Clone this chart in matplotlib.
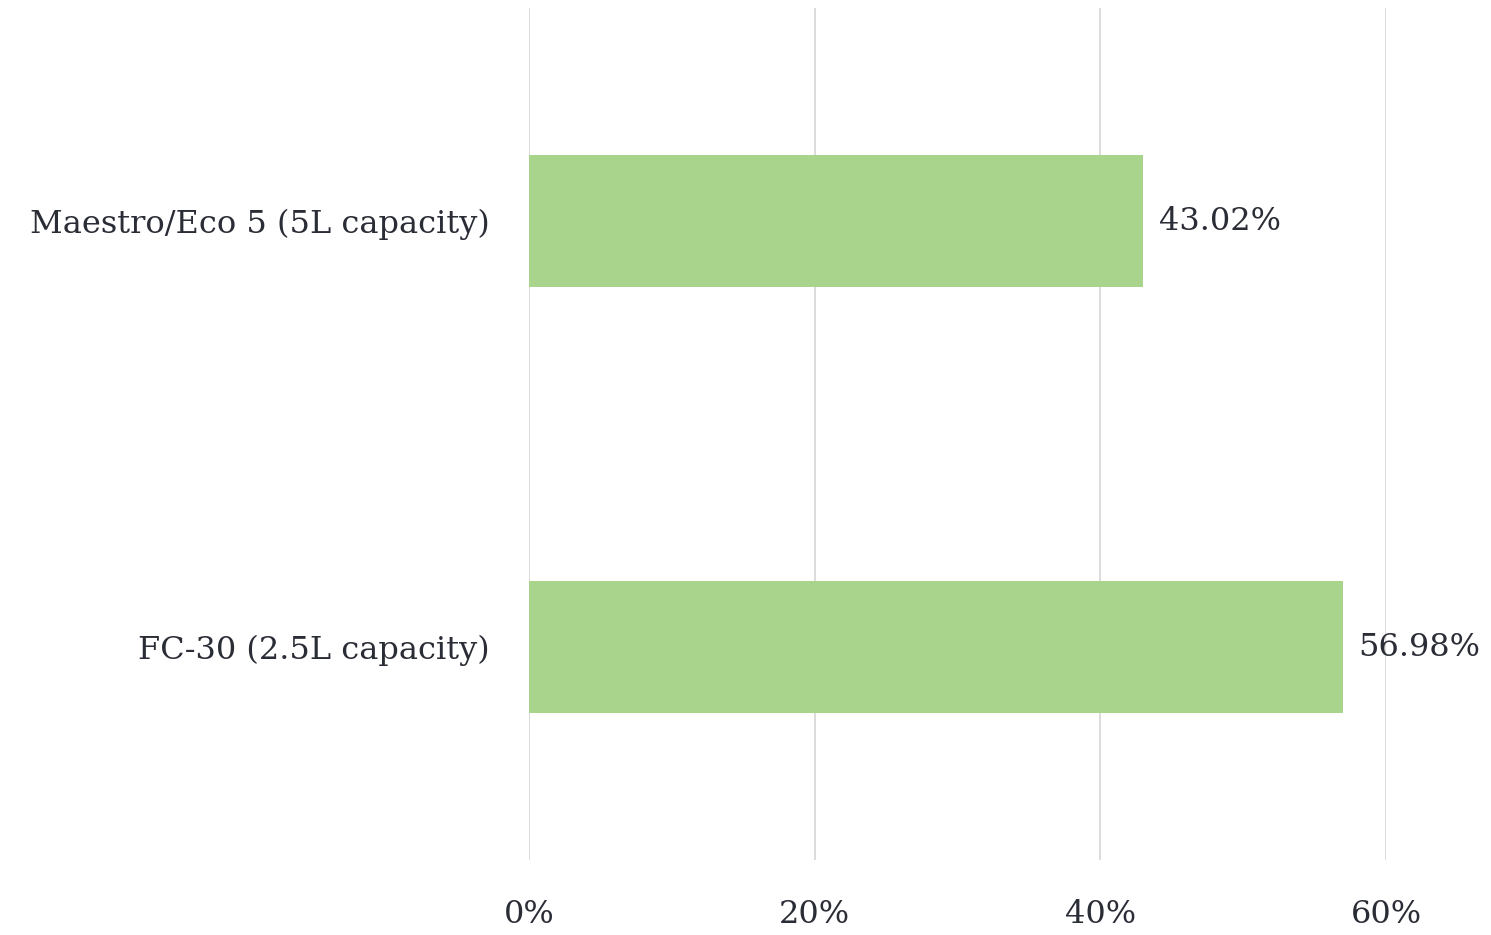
import matplotlib
matplotlib.use("Agg")
import matplotlib.pyplot as plt

categories = ["Maestro/Eco 5 (5L capacity)", "FC-30 (2.5L capacity)"]
shares = [43.02, 56.98]
ticks = [0, 20, 40, 60]
tick_labels = ["0%", "20%", "40%", "60%"]

plt.rcParams['font.family'] = ['DejaVu Serif']
text_color = '#2b2d36'

fig = plt.figure(figsize=(14.91, 9.35), dpi=100)
ax = fig.add_axes([529 / 1491, 1 - 860 / 935, (1386 - 529) / 1491, 852 / 935])

ypos = list(range(len(categories)))
bars = ax.barh(ypos, shares, height=0.31, color='#a8d58b', zorder=2)
for b, v in zip(bars, shares):
    ax.text(v + 1.1, b.get_y() + b.get_height() / 2, f"{v:.2f}%",
            va='center', ha='left', fontsize=23, color=text_color,
            zorder=3, clip_on=False)

ax.set_xlim(0, 60)
ax.set_ylim(1.5, -0.5)
ax.set_yticks(ypos)
ax.set_yticklabels(categories)
ax.set_xticks(ticks)
ax.set_xticklabels(tick_labels)
ax.tick_params(axis='both', length=0, labelsize=23, colors=text_color)
ax.tick_params(axis='y', pad=28)
ax.tick_params(axis='x', pad=28)
ax.xaxis.grid(True, color='#dcdcdc', linewidth=1.4, zorder=0)
ax.set_axisbelow(True)
for s in ax.spines.values():
    s.set_visible(False)

fig.savefig("out.png", dpi=100)
